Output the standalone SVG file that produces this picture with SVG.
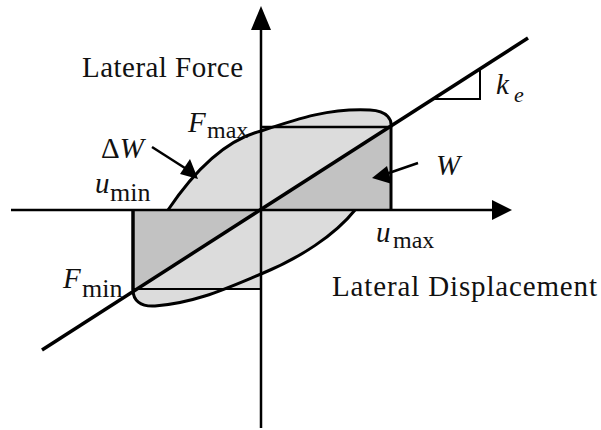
<svg xmlns="http://www.w3.org/2000/svg" width="601" height="430" viewBox="0 0 601 430">
<style>
.t{font-family:"Liberation Serif","Times New Roman",serif;fill:#111}
.it{font-style:italic}
.ln{stroke:#000;fill:none;stroke-linecap:butt}
.light{fill:#dcdcdc}
.dark{fill:#c2c2c2}
</style>
<rect width="601" height="430" fill="#fff"/>
<g id="loop">
<path class="light" d="M168,210 C195,170 225,140 261,131 C300,118 330,108 370,110 C388,111 392,120 391,127 L391,210 L355,210 C335,235 300,258 261,274 C225,289 195,303 155,306 C140,307 133,300 133,290 L133,210 Z"/>
</g>
<g id="work-rect">
<polygon class="light" points="261,210 261,127 391,127"/>
<polygon class="dark" points="261,210 391,127 391,210"/>
<polygon class="dark" points="133,210 261,210 133,290"/>
<polygon class="light" points="133,289 261,289 261,210 133,290"/>
<path class="ln" stroke-width="2.5" d="M261,127 H391"/>
<path class="ln" stroke-width="3" d="M391,126 V210"/>
<path class="ln" stroke-width="3.5" d="M133,210 V290"/>
<path class="ln" stroke-width="2" d="M133,289 H261"/>
</g>
<g id="loop-curves">
<path class="ln" stroke-width="3" d="M168,210 C195,170 225,140 261,131 C300,118 330,108 370,110 C388,111 392,120 391,127"/>
<path class="ln" stroke-width="3" d="M355,210 C335,235 300,258 261,274 C225,289 195,303 155,306 C140,307 133,300 133,290"/>
</g>
<g id="axes">
<path class="ln" stroke-width="2.5" d="M11,210 H496"/>
<polygon points="492,200 512,210 492,220" fill="#000"/>
<path class="ln" stroke-width="2.5" d="M261,428 V26"/>
<polygon points="251,30 261,6 271,30" fill="#000"/>
</g>
<g id="stiffness-line">
<path class="ln" stroke-width="3.5" d="M42,350 L528,38"/>
<path class="ln" stroke-width="2" d="M433,99 H480 V70"/>
</g>
<g id="connectors">
<path class="ln" stroke-width="2.5" d="M152,147 L188,170"/>
<polygon points="180,174 190,159 198,179" fill="#000"/>
<path class="ln" stroke-width="2.5" d="M418,163 L386,174"/>
<polygon points="387,166 392,184 372,178" fill="#000"/>
</g>
<g id="labels">
<text class="t" x="82" y="77" font-size="29" textLength="161" lengthAdjust="spacing">Lateral Force</text>
<text class="t" x="332" y="296" font-size="29" textLength="265" lengthAdjust="spacing">Lateral Displacement</text>
<g id="label-Fmax"><text class="t it" x="188" y="132" font-size="29">F</text><text class="t" x="207" y="138" font-size="24">max</text></g>
<g id="label-dW"><text class="t" x="101" y="158" font-size="29">Δ<tspan class="it">W</tspan></text></g>
<g id="label-umin"><text class="t it" x="95" y="193" font-size="29">u</text><text class="t" x="110" y="201" font-size="26">min</text></g>
<g id="label-Fmin"><text class="t it" x="63" y="288" font-size="29">F</text><text class="t" x="82" y="297" font-size="26">min</text></g>
<g id="label-W"><text class="t it" x="436" y="175" font-size="29">W</text></g>
<g id="label-umax"><text class="t it" x="376" y="242" font-size="29">u</text><text class="t" x="393" y="248" font-size="24">max</text></g>
<g id="label-ke"><text class="t it" x="496" y="94" font-size="29">k</text><text class="t it" x="514" y="102" font-size="22">e</text></g>
</g>
</svg>
